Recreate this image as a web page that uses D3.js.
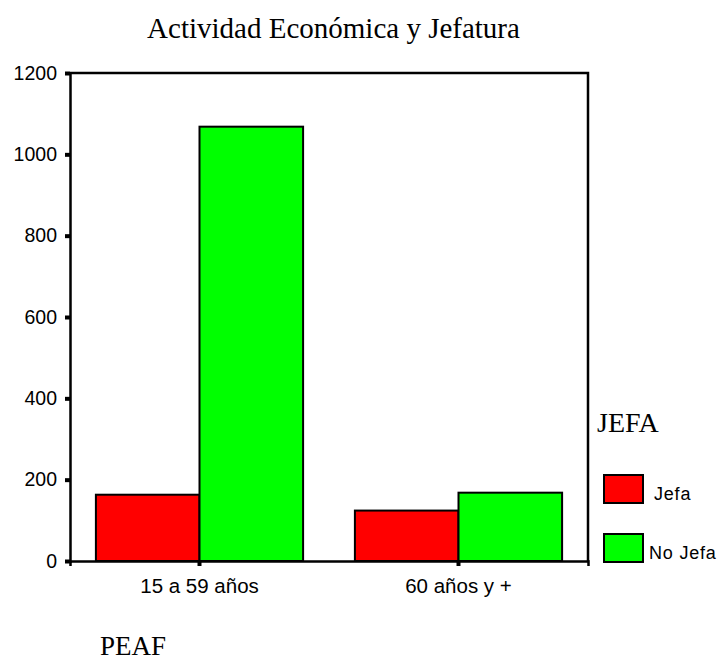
<!DOCTYPE html>
<html>
<head>
<meta charset="utf-8">
<script src="https://cdn.jsdelivr.net/npm/d3@7"></script>
<style>
  body { margin: 0; background: #fff; }
  svg { display: block; }
</style>
</head>
<body>
<div id="chart"></div>
<script>
// Data
var categories = ['15 a 59 años', '60 años y +'];
var series     = ['Jefa', 'No Jefa'];
var jefa       = [163, 124];
var noJefa     = [1068, 168];
var yTicks     = [0, 200, 400, 600, 800, 1000, 1200];
var colors     = ['#ff0000', '#00ff00'];

var chart_width  = 724;
var chart_height = 663;

var plot = { left: 70, right: 588, top: 73, bottom: 561 };

var rows = categories.map(function(c, i){
    return { cat: c, values: [jefa[i], noJefa[i]] };
});

var svg = d3.select('#chart')
    .append('svg')
    .attr('width', chart_width)
    .attr('height', chart_height);

var x = d3.scaleBand()
    .domain(categories)
    .range([plot.left, plot.right])
    .paddingInner(0.2)
    .paddingOuter(0.1);

var xs = d3.scaleBand()
    .domain(series)
    .range([0, x.bandwidth()]);

var y = d3.scaleLinear()
    .domain([0, 1200])
    .range([plot.bottom, plot.top]);

// Title
svg.append('text')
    .attr('x', 333.5)
    .attr('y', 38)
    .attr('text-anchor', 'middle')
    .style('font-family', '"Liberation Serif", "Times New Roman", serif')
    .style('font-size', '29px')
    .text('Actividad Económica y Jefatura');

// Bars
var groups = svg.selectAll('g.group')
    .data(rows)
    .enter()
    .append('g')
    .attr('class', 'group')
    .attr('transform', function(d){ return 'translate(' + x(d.cat) + ',0)'; });

groups.selectAll('rect')
    .data(function(d){
        return d.values.map(function(v, i){ return { key: series[i], value: v, i: i }; });
    })
    .enter()
    .append('rect')
    .attr('x', function(d){ return xs(d.key); })
    .attr('y', function(d){ return y(d.value); })
    .attr('width', xs.bandwidth())
    .attr('height', function(d){ return y(0) - y(d.value); })
    .attr('fill', function(d){ return colors[d.i]; })
    .attr('stroke', 'black')
    .attr('stroke-width', 2);

// Frame
svg.append('path')
    .attr('d', 'M' + plot.left + ',' + plot.top + 'H' + plot.right + 'V' + plot.bottom)
    .attr('fill', 'none')
    .attr('stroke', 'black')
    .attr('stroke-width', 2.5);

// Axes
var yAxis = svg.append('g')
    .attr('transform', 'translate(' + plot.left + ',0)')
    .call(d3.axisLeft(y).tickValues(yTicks).tickFormat(d3.format('d')).tickSize(5).tickPadding(8));

var xAxis = svg.append('g')
    .attr('transform', 'translate(0,' + plot.bottom + ')')
    .call(d3.axisBottom(x).tickSize(5).tickPadding(12));

[yAxis, xAxis].forEach(function(a){
    a.select('.domain')
        .attr('stroke', 'black')
        .attr('stroke-width', 2.5);
    a.selectAll('.tick line')
        .attr('stroke', 'black')
        .attr('stroke-width', 4);
    a.selectAll('.tick text')
        .attr('fill', 'black')
        .style('font-family', '"Liberation Sans", Arial, sans-serif')
        .style('font-size', '19.5px');
});
xAxis.selectAll('.tick text').style('font-size', '20.5px');

// Legend
svg.append('text')
    .attr('x', 597)
    .attr('y', 432)
    .style('font-family', '"Liberation Serif", "Times New Roman", serif')
    .style('font-size', '28px')
    .text('JEFA');

var legendY  = [475, 534];
var legendTx = [654, 649];

var legend = svg.selectAll('g.legend')
    .data(series)
    .enter()
    .append('g')
    .attr('class', 'legend');

legend.append('rect')
    .attr('x', 604)
    .attr('y', function(d, i){ return legendY[i]; })
    .attr('width', 39)
    .attr('height', 28)
    .attr('fill', function(d, i){ return colors[i]; })
    .attr('stroke', 'black')
    .attr('stroke-width', 2);

legend.append('text')
    .attr('x', function(d, i){ return legendTx[i]; })
    .attr('y', function(d, i){ return legendY[i] + 25; })
    .style('font-family', '"Liberation Sans", Arial, sans-serif')
    .style('font-size', '18px')
    .style('letter-spacing', '0.8px')
    .text(function(d){ return d; });

// X axis title
svg.append('text')
    .attr('x', 100)
    .attr('y', 655)
    .style('font-family', '"Liberation Serif", "Times New Roman", serif')
    .style('font-size', '27px')
    .text('PEAF');
</script>
</body>
</html>
